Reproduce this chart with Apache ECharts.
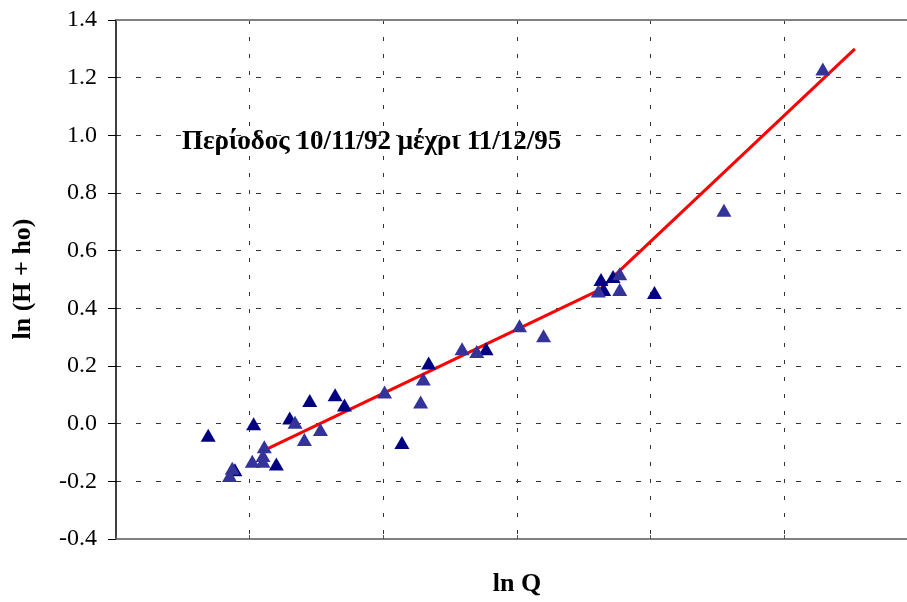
<!DOCTYPE html>
<html><head><meta charset="utf-8">
<script src="https://cdn.jsdelivr.net/npm/echarts@6/dist/echarts.min.js"></script>
<style>html,body{margin:0;padding:0;background:#fff}#c{width:907px;height:602px}</style>
</head><body><div id="c"></div>
<script>
// ln Q (navy triangles)
const navyX = [-2.31, -1.97, -1.70, -1.55, -1.36, -1.29, -1.80, -2.11, -0.86, -0.66, -0.23, 0.63, 0.72, 0.65, 1.03];
const navyY = [-0.04, 0.00, 0.02, 0.08, 0.10, 0.065, -0.14, -0.16, -0.065, 0.21, 0.26, 0.50, 0.51, 0.465, 0.455];
// ln Q (slate blue triangles)
const slateX = [-1.66, -1.59, -1.47, -1.89, -1.90, -1.90, -1.98, -2.13, -2.15, -0.99, -0.72, -0.70, -0.41, -0.30, 0.02, 0.20, 0.77, 0.61, 0.77, 1.55, 2.29];
const slateY = [0.005, -0.055, -0.02, -0.08, -0.11, -0.13, -0.13, -0.155, -0.18, 0.11, 0.075, 0.155, 0.26, 0.25, 0.34, 0.305, 0.52, 0.46, 0.465, 0.74, 1.23];
// fitted piecewise line
const fitX = [-1.88, 0.615, 2.53];
const fitY = [-0.09, 0.463, 1.30];
// axes (the x axis runs on past the right edge of the picture)
const yMin = -0.4, yMax = 1.4, yStep = 0.2;
const xMin = -3, xMax = 2.92, xStep = 1;
const annotation = 'Περίοδος 10/11/92 μέχρι 11/12/95';
const xTitle = 'ln Q';
const yTitle = 'ln (H + ho)';

const zip = (a, b) => a.map((v, i) => [v, b[i]]);
const serif = '"Liberation Serif", "Times New Roman", serif';
const chart = echarts.init(document.getElementById('c'), null, {renderer: 'canvas'});
chart.setOption({
  animation: false,
  backgroundColor: '#fff',
  grid: {left: 116, top: 20, right: 0, bottom: 63, containLabel: false},
  xAxis: [{
    type: 'value', min: xMin, max: xMax, interval: xStep, position: 'bottom',
    axisLine: {onZero: false, lineStyle: {color: '#808080', width: 2}},
    axisTick: {show: true, inside: true, length: 4, lineStyle: {color: '#555', width: 1}},
    axisLabel: {show: false},
    splitLine: {show: true, showMinLine: false, showMaxLine: false,
      lineStyle: {type: [4, 13], color: '#333', width: 1}}
  }, {
    type: 'value', min: xMin, max: xMax, interval: xStep, position: 'top',
    axisLine: {show: true, onZero: false, lineStyle: {color: '#808080', width: 2}},
    axisTick: {show: false}, axisLabel: {show: false}, splitLine: {show: false}
  }],
  yAxis: {
    type: 'value', min: yMin, max: yMax, interval: yStep,
    axisLine: {show: true, onZero: false, lineStyle: {color: '#000', width: 1.5}},
    axisTick: {show: true, inside: false, length: 8, lineStyle: {color: '#000', width: 1}},
    axisLabel: {fontFamily: serif, fontSize: 24, color: '#000', margin: 19,
      formatter: v => (Math.abs(v) < 1e-9 ? 0 : v).toFixed(1)},
    splitLine: {show: true, lineStyle: {type: [5, 15], color: '#333', width: 1}}
  },
  series: [
    {type: 'line', data: zip(fitX, fitY), showSymbol: false, symbol: 'none',
     lineStyle: {color: '#ff0000', width: 3}, z: 2},
    {type: 'scatter', data: zip(navyX, navyY), symbol: 'triangle', symbolSize: [15, 13],
     itemStyle: {color: '#000080', opacity: 1}, z: 3},
    {type: 'scatter', data: zip(slateX, slateY), symbol: 'triangle', symbolSize: [15, 13],
     itemStyle: {color: '#333399', opacity: 1}, z: 3}
  ],
  graphic: [
    {type: 'text', x: 182, y: 142, style: {text: annotation, font: 'bold 27px ' + serif, fill: '#000',
      align: 'left', verticalAlign: 'middle', textAlign: 'left', textVerticalAlign: 'middle'}},
    {type: 'text', x: 517, y: 584, style: {text: xTitle, font: 'bold 26px ' + serif, fill: '#000',
      align: 'center', verticalAlign: 'middle', textAlign: 'center', textVerticalAlign: 'middle'}},
    {type: 'text', x: 23, y: 279, rotation: Math.PI / 2, style: {text: yTitle, font: 'bold 26px ' + serif, fill: '#000',
      align: 'center', verticalAlign: 'middle', textAlign: 'center', textVerticalAlign: 'middle'}}
  ]
});
</script>
</body></html>
